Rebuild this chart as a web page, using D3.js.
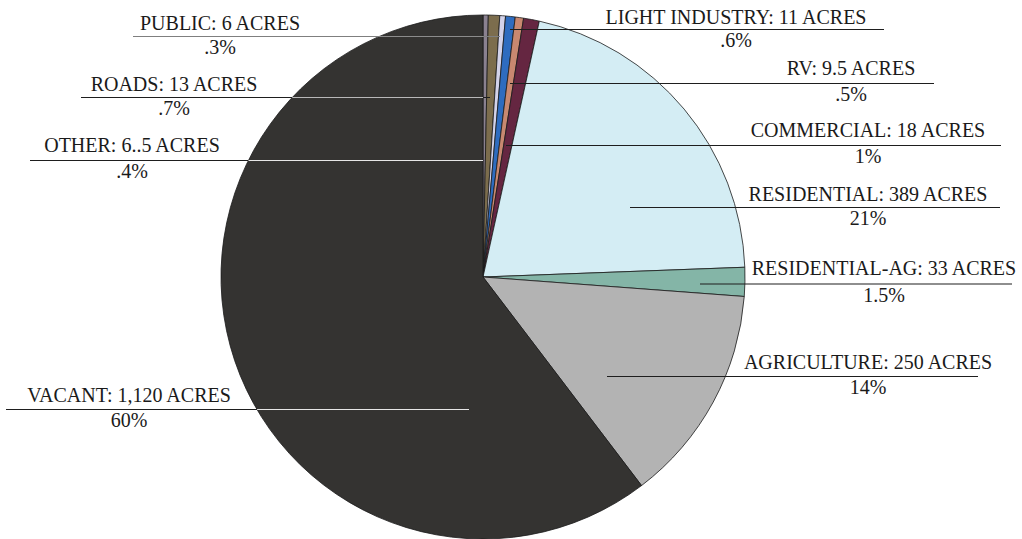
<!DOCTYPE html>
<html>
    <head>
        <meta charset="utf-8">
        <title>Land Use Acres</title>
        <script src="https://d3js.org/d3.v7.min.js"></script>
        <style>
            body { margin: 0; background: #fff; }
            text { font-family: "Liberation Serif", "DejaVu Serif", serif; font-size: 20px; fill: #1a1a1a; }
        </style>
    </head>
    <body>
        <div id="container"></div>
        <script>
            // Data (clockwise from 12 o'clock)
            const categories = ["PUBLIC", "ROADS", "OTHER", "LIGHT INDUSTRY", "RV", "COMMERCIAL", "RESIDENTIAL", "RESIDENTIAL-AG", "AGRICULTURE", "VACANT"]
            const acres = [6, 13, 6.5, 11, 9.5, 18, 389, 33, 250, 1120]
            const acreLabels = ["6", "13", "6..5", "11", "9.5", "18", "389", "33", "250", "1,120"]
            const pctLabels = [".3%", ".7%", ".4%", ".6%", ".5%", "1%", "21%", "1.5%", "14%", "60%"]
            const colors = ["#8a8190", "#7c6d4d", "#d3d3ea", "#2e6cbf", "#c88870", "#652641", "#d4edf4", "#84b5a7", "#b3b3b3", "#343331"]

            // Label placement: text centre, name baseline, leader line (x1 -> x2 at y)
            const labelLayout = [
                { cx: 220, y: 30, x1: 133, x2: 500, ly: 36.5, outer: "#7f7f7f", inner: "#8c8c8c" },
                { cx: 174, y: 90.5, x1: 81, x2: 490, ly: 97.5, outer: "#1e1e1e", inner: "#b8b8b8" },
                { cx: 132, y: 151.5, x1: 30, x2: 483, ly: 160.5, outer: "#1e1e1e", inner: "#e6e6e6" },
                { cx: 736, y: 23.5, x1: 510, x2: 884, ly: 29.5, outer: "#1e1e1e", inner: "#e6e6e6" },
                { cx: 851, y: 75, x1: 510, x2: 934, ly: 83.5, outer: "#1e1e1e", inner: "#e6e6e6" },
                { cx: 868, y: 136.5, x1: 506, x2: 1001, ly: 145.5, outer: "#1e1e1e", inner: "#e6e6e6" },
                { cx: 868, y: 200.5, x1: 630, x2: 1000, ly: 207.5, outer: "#1e1e1e", inner: "#e6e6e6" },
                { cx: 884, y: 275, x1: 700, x2: 1012, ly: 284, outer: "#1e1e1e", inner: "#e6e6e6" },
                { cx: 868, y: 369, x1: 607, x2: 978, ly: 376.5, outer: "#1e1e1e", inner: "#e6e6e6" },
                { cx: 129, y: 402, x1: 6, x2: 469, ly: 409.5, outer: "#1e1e1e", inner: "#e6e6e6" }
            ]

            const w = 1022
            const h = 539
            const cx = 483
            const cy = 277
            const radius = 262

            const color = d3.scaleOrdinal().domain(categories).range(colors)

            const pie = d3.pie().sort(null).value(d => d.acres)
            const arc = d3.arc().innerRadius(0).outerRadius(radius)

            const dataset = categories.map((c, i) => ({
                name: c,
                acres: acres[i],
                acreLabel: acreLabels[i],
                pct: pctLabels[i],
                layout: labelLayout[i]
            }))
            const arcs = pie(dataset)

            const svg = d3.select("#container")
                .append("svg")
                .attr("width", w)
                .attr("height", h)

            // Clip for the light part of leader lines over the dark slice
            const vacantArc = arcs.find(d => d.data.name === "VACANT")
            svg.append("defs")
                .append("clipPath")
                .attr("id", "vacant-clip")
                .append("path")
                .attr("transform", `translate(${cx},${cy})`)
                .attr("d", arc(vacantArc))

            // Slices
            svg.append("g")
                .attr("transform", `translate(${cx},${cy})`)
                .selectAll("path")
                .data(arcs)
                .enter()
                .append("path")
                .attr("d", arc)
                .attr("fill", d => color(d.data.name))
                .attr("stroke", "#1a1a1a")
                .attr("stroke-width", 0.8)
                .attr("stroke-linejoin", "round")

            // Leader lines
            const lines = svg.append("g")
            lines.selectAll("line.outer")
                .data(dataset)
                .enter()
                .append("line")
                .attr("class", "outer")
                .attr("x1", d => d.layout.x1)
                .attr("x2", d => d.layout.x2)
                .attr("y1", d => d.layout.ly)
                .attr("y2", d => d.layout.ly)
                .attr("stroke", d => d.layout.outer)
                .attr("stroke-width", 1.2)

            lines.append("g")
                .attr("clip-path", "url(#vacant-clip)")
                .selectAll("line")
                .data(dataset)
                .enter()
                .append("line")
                .attr("x1", d => d.layout.x1)
                .attr("x2", d => d.layout.x2)
                .attr("y1", d => d.layout.ly)
                .attr("y2", d => d.layout.ly)
                .attr("stroke", d => d.layout.inner)
                .attr("stroke-width", 1.2)

            // Labels
            const labels = svg.append("g")
                .selectAll("g")
                .data(dataset)
                .enter()
                .append("g")

            labels.append("text")
                .attr("x", d => d.layout.cx)
                .attr("y", d => d.layout.y)
                .attr("text-anchor", "middle")
                .text(d => `${d.name}: ${d.acreLabel} ACRES`)

            labels.append("text")
                .attr("x", d => d.layout.cx)
                .attr("y", d => d.layout.ly + 17.5)
                .attr("text-anchor", "middle")
                .text(d => d.pct)
        </script>
    </body>
</html>
